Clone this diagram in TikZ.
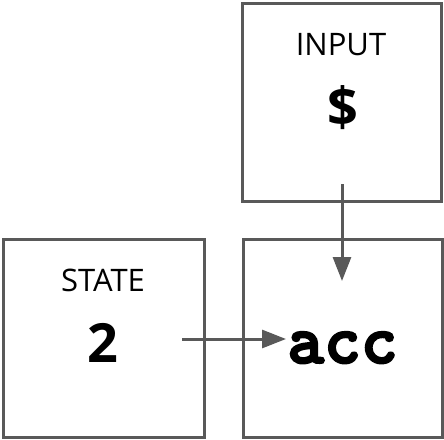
\documentclass[tikz,border=0pt]{standalone}
\usepackage{fontspec}
\setmainfont{Open Sans}
\newfontfamily\monob{lmmonolt10-bold.otf}[FakeBold=3]
\usetikzlibrary{arrows.meta}
\definecolor{linegray}{HTML}{595959}
\tikzset{
  box/.style={draw=linegray, line width=3pt, minimum width=199pt, minimum height=198pt, inner sep=0pt},
  lbl/.style={font=\fontsize{31}{31}\selectfont, inner sep=0pt},
  val/.style={font=\fontsize{54}{54}\selectfont\bfseries, inner sep=0pt},
  conn/.style={draw=linegray, line width=3pt, -{Triangle[length=24pt,width=18pt]}}
}
\begin{document}
\begin{tikzpicture}[x=1pt,y=1pt]
\useasboundingbox (0,0) rectangle (444,-439);
\node[box] (input) at (342,-102) {};
\node[box, minimum width=201pt] (state) at (103.5,-338) {};
\node[box] (accbox) at (342.5,-338) {};
\node[lbl] (inlbl) at (341,-45) {INPUT};
\node[val] (dollar) at (343,-108) {\$};
\node[lbl] (stlbl) at (103,-280) {STATE};
\node[val] (two) at (103,-343) {2};
\node[inner sep=0pt, anchor=base, font=\monob\fontsize{70}{70}\selectfont] (acc) at (342.5,-363) {acc};
\coordinate (vstart) at (342,-184);
\coordinate (vend) at (342,-281);
\coordinate (hstart) at (182,-339);
\coordinate (hend) at (286,-339);
\draw[conn] (vstart) -- (vend);
\draw[conn] (hstart) -- (hend);
\end{tikzpicture}
\end{document}
